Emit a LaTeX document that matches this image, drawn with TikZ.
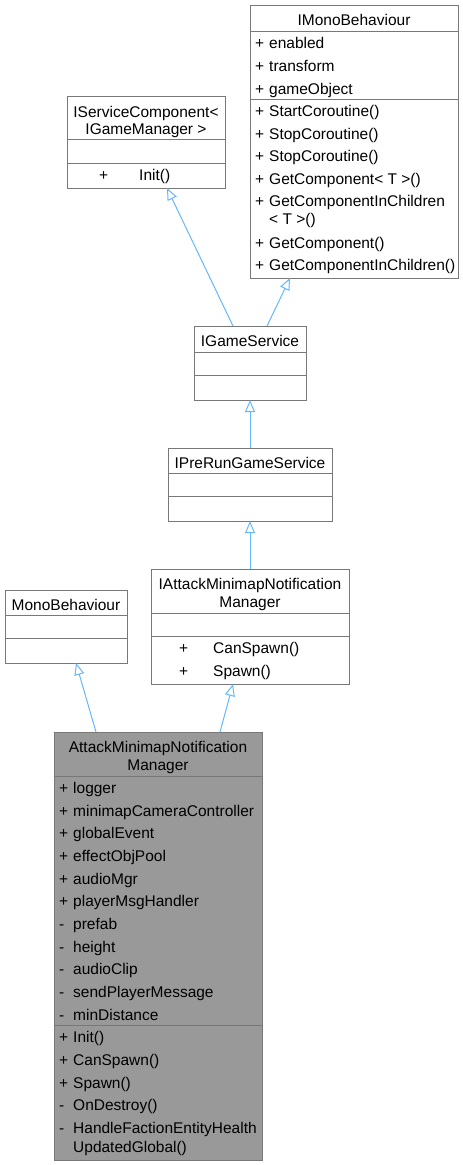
\documentclass[tikz,border=0pt]{standalone}
\usepackage{fontspec}
\setmainfont{Liberation Sans}
\usetikzlibrary{arrows.meta}

\begin{document}
\begin{tikzpicture}[x=1pt,y=-1pt,
    classbox/.style={draw=boxline, fill=white, line width=1pt, anchor=north west, inner sep=0pt, outer sep=0pt},
    txt/.style={inner sep=0pt, font=\fontsize{15.5}{18}\selectfont},
    member/.style={txt, anchor=base west},
    title/.style={txt, anchor=base},
    sep/.style={draw=boxline, line width=1pt},
    inherit/.style={draw=arrowblue, line width=1pt, -{Triangle[open,length=12pt,width=10pt]}}]
    \definecolor{boxline}{RGB}{120, 120, 120}
    \definecolor{arrowblue}{RGB}{99, 184, 255}
    \definecolor{mainfill}{RGB}{153, 153, 153}

    \useasboundingbox (0,0) rectangle (463,1165);

    % IMonoBehaviour
    \node[classbox, minimum width=208, minimum height=273] (imono) at (250,5) {};
    \draw[sep] (250,31) -- (458,31);
    \draw[sep] (250,99) -- (458,99);
    \node[title] (imono-t) at (354,25.5) {IMonoBehaviour};
    \foreach \y/\t [count=\i] in {48.8/enabled, 71.4/transform, 94/gameObject,
        116.5/StartCoroutine(), 139/StopCoroutine(), 161.7/StopCoroutine(),
        184.3/GetComponent< T >(), 206.9/GetComponentInChildren,
        248.1/GetComponent(), 270.7/GetComponentInChildren()} {
        \node[member] (imono-p\i) at (255,\y) {+};
        \node[member] (imono-m\i) at (269,\y) {\t};
    }
    \node[member] (imono-w) at (269,224.9) {< T >()};

    % IServiceComponent
    \node[classbox, minimum width=158, minimum height=92] (isvc) at (67,96) {};
    \draw[sep] (67,139) -- (225,139);
    \draw[sep] (67,163) -- (225,163);
    \node[title] (isvc-t1) at (146,117.2) {IServiceComponent<};
    \node[title] (isvc-t2) at (146,134.8) {IGameManager >};
    \node[member] (isvc-p1) at (99,180.5) {+};
    \node[member] (isvc-m1) at (139,180.5) {Init()};

    % IGameService
    \node[classbox, minimum width=112, minimum height=74] (igame) at (194,326) {};
    \draw[sep] (194,352) -- (306,352);
    \draw[sep] (194,375) -- (306,375);
    \node[title] (igame-t) at (250,346.5) {IGameService};

    % IPreRunGameService
    \node[classbox, minimum width=164, minimum height=73] (iprerun) at (168,448) {};
    \draw[sep] (168,473) -- (332,473);
    \draw[sep] (168,496) -- (332,496);
    \node[title] (iprerun-t) at (250,468.5) {IPreRunGameService};

    % IAttackMinimapNotificationManager
    \node[classbox, minimum width=198, minimum height=115] (iattack) at (151,569) {};
    \draw[sep] (151,613) -- (349,613);
    \draw[sep] (151,636) -- (349,636);
    \node[title] (iattack-t1) at (250,589.8) {IAttackMinimapNotification};
    \node[title] (iattack-t2) at (250,607.5) {Manager};
    \foreach \y/\t [count=\i] in {653.5/CanSpawn(), 676.5/Spawn()} {
        \node[member] (iattack-p\i) at (179,\y) {+};
        \node[member] (iattack-m\i) at (213,\y) {\t};
    }

    % MonoBehaviour
    \node[classbox, minimum width=122, minimum height=73] (mono) at (5,590) {};
    \draw[sep] (5,615) -- (127,615);
    \draw[sep] (5,638) -- (127,638);
    \node[title] (mono-t) at (66,610.5) {MonoBehaviour};

    % AttackMinimapNotificationManager
    \node[classbox, fill=mainfill, minimum width=208, minimum height=428] (amnm) at (54,732) {};
    \draw[sep] (54,776) -- (262,776);
    \draw[sep] (54,1025) -- (262,1025);
    \node[title] (amnm-t1) at (158,752.8) {AttackMinimapNotification};
    \node[title] (amnm-t2) at (158,770.5) {Manager};
    \foreach \y/\v/\t [count=\i] in {793.5/+/logger, 816.2/+/minimapCameraController,
        838.8/+/globalEvent, 861.5/+/effectObjPool, 884.1/+/audioMgr,
        906.8/+/playerMsgHandler, 929.5/-/prefab, 952.1/-/height,
        974.7/-/audioClip, 997.4/-/sendPlayerMessage, 1020/-/minDistance,
        1042.5/+/Init(), 1065.5/+/CanSpawn(), 1088.5/+/Spawn(),
        1110.5/-/OnDestroy(), 1133.5/-/HandleFactionEntityHealth} {
        \node[member] (amnm-p\i) at (59,\y) {\v};
        \node[member] (amnm-m\i) at (73,\y) {\t};
    }
    \node[member] (amnm-w) at (73,1152) {UpdatedGlobal()};

    % inheritance
    \draw[inherit] ([xshift=39]igame.north west) -- ([xshift=100]isvc.south west);
    \draw[inherit] ([xshift=73]igame.north west) -- ([xshift=40]imono.south west);
    \draw[inherit] (iprerun.north) -- (igame.south);
    \draw[inherit] (iattack.north) -- (iprerun.south);
    \draw[inherit] ([xshift=42]amnm.north west) -- ([xshift=71]mono.south west);
    \draw[inherit] ([xshift=166]amnm.north west) -- ([xshift=82]iattack.south west);
\end{tikzpicture}
\end{document}
